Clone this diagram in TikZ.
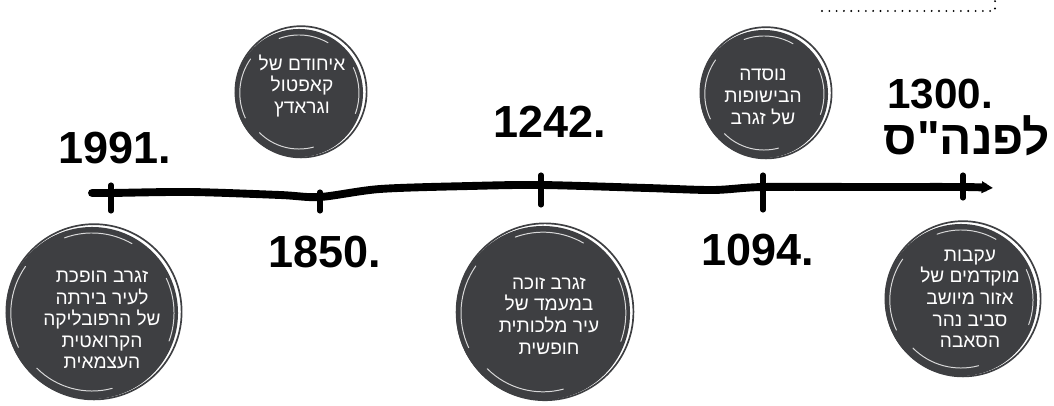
\documentclass[tikz,border=0pt]{standalone}
\usepackage{fontspec}
\setmainfont{Liberation Sans}
\newfontfamily\hebfont[Script=Hebrew]{Liberation Sans}
\usetikzlibrary{arrows.meta}
\TeXXeTstate=1
\definecolor{blobgray}{HTML}{3E3F42}

\tikzset{
  blob/.style={circle, fill=blobgray, inner sep=0pt},
  blobtext/.style={text=white, align=center, inner sep=0pt,
    font=\hebfont\fontsize{13.6}{15.4}\selectfont},
  year/.style={inner sep=0pt, font=\bfseries\fontsize{32}{34}\selectfont},
  scribble/.style={white, opacity=0.8, line width=0.7pt, line cap=round},
  tick/.style={line width=3.6pt, line cap=round},
}

% scribbled edge of a blob: node name, radius
\newcommand{\scrib}[2]{%
  \draw[scribble] (#1.center) ++(145:#2-0.12cm) arc[start angle=145, end angle=205, radius=#2-0.12cm];
  \draw[scribble] (#1.center) ++(225:#2-0.2cm) arc[start angle=225, end angle=285, radius=#2-0.2cm];
  \draw[scribble] (#1.center) ++(60:#2-0.15cm) arc[start angle=60, end angle=110, radius=#2-0.15cm];
  \draw[scribble] (#1.center) ++(-20:#2-0.1cm) arc[start angle=-20, end angle=25, radius=#2-0.1cm];
  \draw[blobgray, line width=1.2pt] (#1.center) ++(0.05cm,0.03cm) circle[radius=#2+0.04cm];
}

\begin{document}
\begin{tikzpicture}[x=0.025cm, y=-0.025cm]
    \useasboundingbox (0,0) rectangle (1054,406);

    % Frame corner
    \draw[line width=1.5pt, line cap=round, dash pattern=on 0pt off 5.2pt]
        (822,11) -- (995,11) -- (995,0);

    % Ticks
    \coordinate (t1) at (111,193);
    \coordinate (t2) at (320,197);
    \coordinate (t3) at (541,185);
    \coordinate (t4) at (763,187);
    \coordinate (t5) at (963,187);
    \coordinate (start) at (92,193);
    \coordinate (tip) at (993,188);

    % Timeline
    \draw[line width=5.6pt, line cap=round, -{Triangle[length=8pt,width=8pt]}]
        plot[smooth] coordinates {(start) (t1) (190,192) (280,195) (t2) (380,189)
            (470,186) (t3) (647,188) (713,190) (t4) (867,187) (t5) (tip)};

    \draw[tick] (t1) ++(0,-8) -- ++(0,26);
    \draw[tick] (t2) ++(0,-5) -- ++(0,19);
    \draw[tick] (t3) ++(0,-10) -- ++(0,30);
    \draw[tick] (t4) ++(0,-12) -- ++(0,35);
    \draw[tick] (t5) ++(0,-12) -- ++(0,23);

    % Blobs
    \node[blob, minimum size=4.3cm] (c1) at (92,313) {};
    \node[blob, minimum size=3.2cm] (c2) at (299,93) {};
    \node[blob, minimum size=4.35cm] (c3) at (543,313) {};
    \node[blob, minimum size=3.2cm] (c4) at (764,94) {};
    \node[blob, minimum size=3.8cm] (c5) at (961,300) {};
    \scrib{c1}{2.15cm}
    \scrib{c2}{1.6cm}
    \scrib{c3}{2.17cm}
    \scrib{c4}{1.6cm}
    \scrib{c5}{1.9cm}

    % Events
    \node[blobtext] (e1) at (102,320) {\beginR זגרב הופכת\endR\\\beginR לעיר בירתה\endR\\%
        \beginR של הרפובליקה\endR\\\beginR הקרואטית\endR\\\beginR העצמאית\endR};
    \node[blobtext] (e2) at (302,86) {\beginR איחודם של\endR\\\beginR קאפטול\endR\\%
        \beginR וגראדץ\endR};
    \node[blobtext] (e3) at (549,316) {\beginR זגרב זוכה\endR\\\beginR במעמד של\endR\\%
        \beginR עיר מלכותית\endR\\\beginR חופשית\endR};
    \node[blobtext] (e4) at (763,97) {\beginR נוסדה\endR\\\beginR הבישופות\endR\\%
        \beginR של זגרב\endR};
    \node[blobtext] (e5) at (970,299) {\beginR עקבות\endR\\\beginR מוקדמים של\endR\\%
        \beginR אזור מיושב\endR\\\beginR סביב נהר\endR\\\beginR הסאבה\endR};

    % Years
    \node[year] (y1) at (115,148) {1991.};
    \node[year] (y2) at (325,252) {1850.};
    \node[year] (y3) at (550,122) {1242.};
    \node[year] (y4) at (758,250) {1094.};
    \node[year, font=\bfseries\fontsize{30}{32}\selectfont] (y5) at (940,94) {1300.};
    \node[year, font=\hebfont\bfseries\fontsize{34}{36}\selectfont] (y6) at (967,136) {\beginR לפנה"ס\endR};
\end{tikzpicture}
\end{document}
